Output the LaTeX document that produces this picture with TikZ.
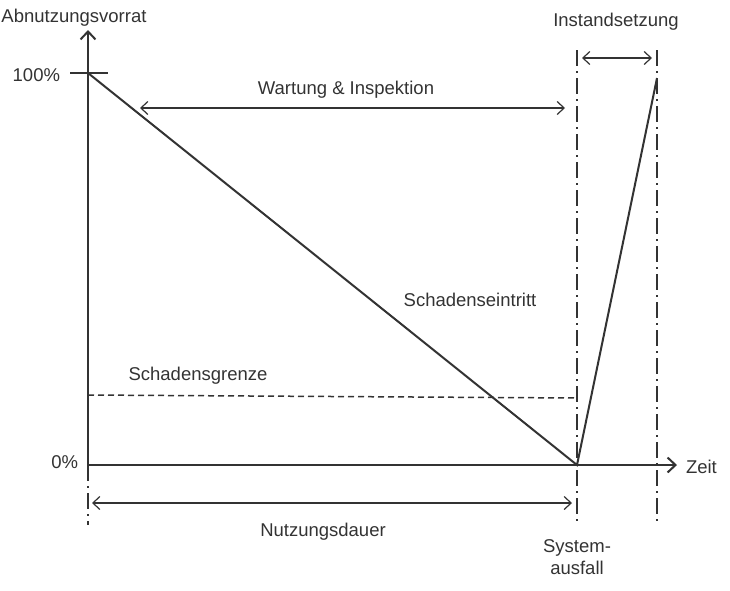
\documentclass[tikz,border=0pt]{standalone}
\usepackage{fontspec}
\setmainfont{Liberation Sans}
\usetikzlibrary{arrows.meta}
\tikzset{
  lbl/.style={font=\fontsize{18.5}{22}\selectfont, inner sep=1pt},
  dimarrow/.style={{Straight Barb[length=7pt,width=13pt]}-{Straight Barb[length=7pt,width=13pt]}, line width=1.2pt},
  dashdot/.style={line width=1.8pt, dash pattern=on 16pt off 5pt on 2pt off 5pt},
}
\begin{document}
\begin{tikzpicture}[x=1pt,y=-1pt,line width=2pt,color=black!80]
  \useasboundingbox (0,0) rectangle (730,590);
  % axes
  \coordinate (o) at (88,465);
  \coordinate (full) at (88,73);
  \coordinate (fail) at (577,465);
  \coordinate (repair) at (657,78);
  \draw[-{Straight Barb[length=8pt,width=15pt]}] (o) -- (88,30);
  \draw[-{Straight Barb[length=8pt,width=15pt]}] (o) -- (677,465);
  \draw (70,73) -- (108,73);
  % dash-dot lines
  \draw[dashdot] (577,50) -- (577,525);
  \draw[dashdot] (657,50) -- (657,525);
  \draw[dashdot] (88,465) -- (88,525);
  % curve
  \draw (full) -- (fail) -- (repair);
  \draw[line width=1.5pt, dash pattern=on 6pt off 4pt] (88,395) -- (577,398);
  % dimension arrows
  \draw[dimarrow] (140,108) -- (565,108);
  \draw[dimarrow] (582,58) -- (652,58);
  \draw[dimarrow] (92,503) -- (572,503);
  % labels
  \node[lbl] (abn) at (74,18) {Abnutzungsvorrat};
  \node[lbl, anchor=east] (p100) at (62,75) {100\%};
  \node[lbl, anchor=east] (p0) at (80,462) {0\%};
  \node[lbl] (wart) at (346,90) {Wartung \& Inspektion};
  \node[lbl] (inst) at (616,22) {Instandsetzung};
  \node[lbl] (sein) at (470,300) {Schadenseintritt};
  \node[lbl] (sgr) at (198,376) {Schadensgrenze};
  \node[lbl] (nutz) at (323,532) {Nutzungsdauer};
  \node[lbl, align=center] (sys) at (577,557) {System-\\ausfall};
  \node[lbl, anchor=west] (zeit) at (684,467) {Zeit};
\end{tikzpicture}
\end{document}
